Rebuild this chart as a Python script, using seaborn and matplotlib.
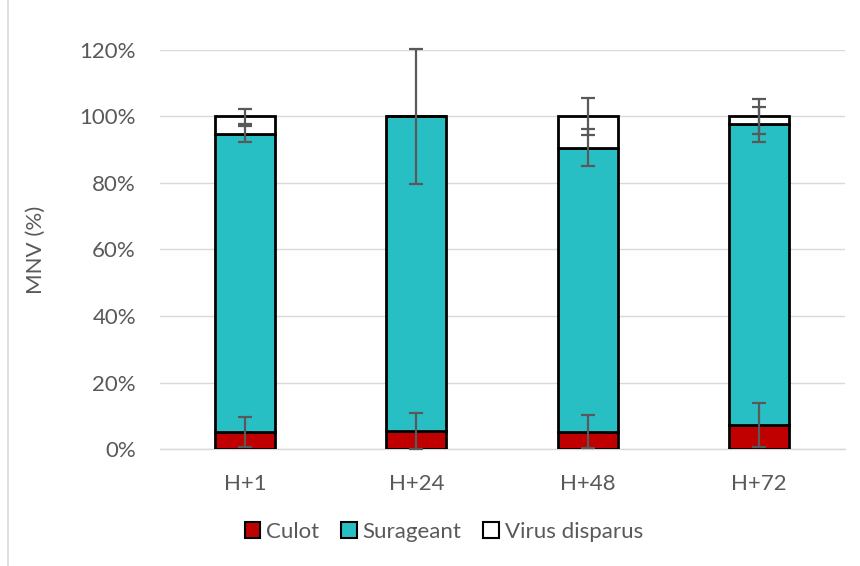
import matplotlib
matplotlib.use("Agg")
import matplotlib.pyplot as plt
import seaborn as sns
import pandas as pd
import numpy as np
from matplotlib.lines import Line2D
from matplotlib.patches import Patch

categories = ["H+1", "H+24", "H+48", "H+72"]
culot = [5.1, 5.5, 5.2, 7.1]
surageant = [89.6, 94.5, 85.4, 90.5]
virus = [5.3, 0.0, 9.4, 2.4]
culot_err = [4.6, 5.4, 5.0, 6.6]
surageant_err = [2.3, 20.3, 5.5, 5.3]
virus_err = [2.3, 0.0, 5.5, 5.3]
series_names = ["Culot", "Surageant", "Virus disparus"]
colors = ["#C00000", "#28BFC4", "#FFFFFF"]
yticks = [0, 20, 40, 60, 80, 100, 120]

sns.set_theme(style="white")
plt.rcParams["font.family"] = ["Lato", "DejaVu Sans"]
text_color = "#595959"
fs = 16

df = pd.DataFrame({"cat": categories, "Culot": culot, "Surageant": surageant,
                   "Virus disparus": virus})
df["b_sur"] = df["Culot"]
df["b_vir"] = df["Culot"] + df["Surageant"]

fig = plt.figure(figsize=(8.6, 5.66), dpi=100)
ax = fig.add_axes([0.1855, 0.2067, 0.7965, 0.705])

bw = 0.35
common = dict(edgecolor="black", linewidth=2.0, width=bw, ax=ax, zorder=3)
sns.barplot(data=df, x="cat", y="Culot", color=colors[0], saturation=1, **common)
sns.barplot(data=df, x="cat", y="Surageant", bottom=df["b_sur"], color=colors[1],
            saturation=1, **common)
sns.barplot(data=df, x="cat", y="Virus disparus", bottom=df["b_vir"], color=colors[2],
            saturation=1, **common)

xs = np.arange(len(categories))
ekw = dict(fmt="none", ecolor="#595959", elinewidth=1.6, capsize=5, capthick=1.6, zorder=5)
tops_c = np.array(culot)
tops_s = np.array(culot) + np.array(surageant)
tops_v = tops_s + np.array(virus)
containers = [
    ax.errorbar(xs, tops_c, yerr=culot_err, **ekw),
    ax.errorbar(xs, tops_s, yerr=surageant_err, **ekw),
]
mask = np.array(virus_err) > 0
containers.append(ax.errorbar(xs[mask], tops_v[mask], yerr=np.array(virus_err)[mask], **ekw))
for c in containers:
    for art in c.lines[1] + c.lines[2]:
        art.set_clip_on(False)

ax.set_ylim(0, 120)
ax.set_xlim(-0.5, len(categories) - 0.5)
ax.set_yticks(yticks)
ax.set_yticklabels([f"{t}%" for t in yticks])
ax.yaxis.grid(True, color="#D9D9D9", linewidth=1.0, zorder=0)
ax.set_axisbelow(True)
for s in ["top", "right", "left"]:
    ax.spines[s].set_visible(False)
ax.spines["bottom"].set_color("#D9D9D9")
ax.spines["bottom"].set_linewidth(1.0)
ax.tick_params(axis="both", length=0, labelsize=fs, labelcolor=text_color)
ax.tick_params(axis="y", pad=17)
ax.tick_params(axis="x", pad=18)
ax.set_xlabel("")
ax.set_ylabel("MNV (%)", fontsize=fs, color=text_color, labelpad=24)

handles = [Patch(facecolor=c, edgecolor="black", linewidth=1.5) for c in colors]
fig.legend(handles, series_names, loc="center", bbox_to_anchor=(0.516, 0.06),
           ncol=3, frameon=False, fontsize=fs, labelcolor=text_color,
           handlelength=0.7, handleheight=0.7, handletextpad=0.25, columnspacing=1.0)

fig.add_artist(Line2D([8 / 860, 8 / 860], [0, 1], transform=fig.transFigure,
                      color="#D9D9D9", linewidth=1.2))

fig.savefig("out.png", dpi=100)
